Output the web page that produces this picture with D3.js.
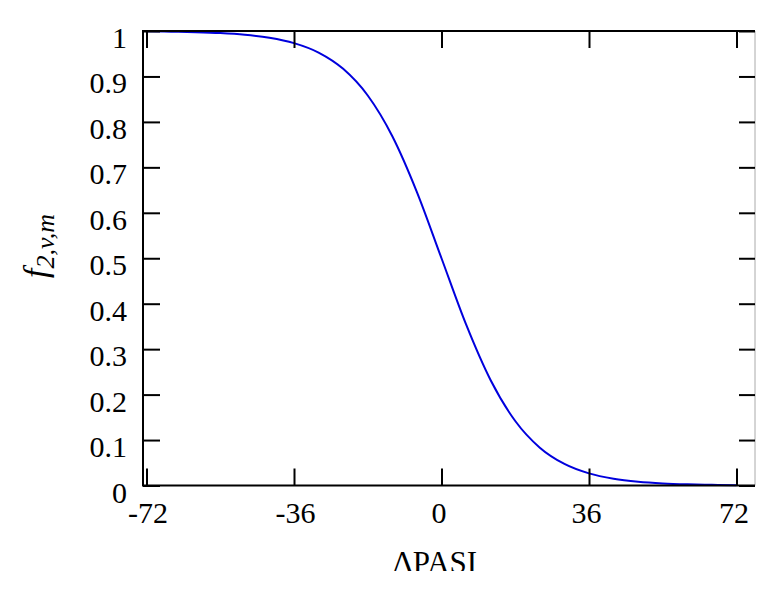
<!DOCTYPE html>
<html>
<head>
<meta charset="utf-8">
<script src="https://cdn.jsdelivr.net/npm/d3@7"></script>
<style>
  html, body { margin: 0; padding: 0; background: #fff; }
  svg { display: block; }
  text { font-family: "Liberation Serif", "DejaVu Serif", serif; fill: #000; }
</style>
</head>
<body>
<svg id="chart" width="777" height="592"></svg>
<script>
// Data
const deltaPASI = [-72, -66, -60, -54, -48, -42, -36, -30, -24, -18, -12, -6, 0, 6, 12, 18, 24, 30, 36, 42, 48, 54, 60, 66, 72];
const fValues   = [0.9993, 0.9986, 0.9975, 0.9955, 0.9918, 0.9852, 0.9734, 0.9526, 0.9168, 0.8581, 0.7685, 0.6457, 0.5,
                   0.3543, 0.2315, 0.1419, 0.0832, 0.0474, 0.0266, 0.0148, 0.0082, 0.0045, 0.0025, 0.0014, 0.0007];
const xTicks = [-72, -36, 0, 36, 72];
const yTicks = [0, 0.1, 0.2, 0.3, 0.4, 0.5, 0.6, 0.7, 0.8, 0.9, 1];
const xLabel = "ΔPASI";

(function () {
const svg = d3.select("#chart");
const x = d3.scaleLinear().domain([-72, 72]).range([146.5, 736.5]);
const y = d3.scaleLinear().domain([0, 1]).range([485.5, 31]);
const pLeft = 143, pRight = 755, pTop = y(1), pBottom = y(0);

// Curve
const line = d3.line().x((d, i) => x(deltaPASI[i])).y(d => y(d)).curve(d3.curveMonotoneX);
svg.append("path").datum(fValues)
  .attr("d", line).attr("fill", "none")
  .attr("stroke", "#0000dd").attr("stroke-width", 2);

// Right frame (thin grey)
svg.append("line").attr("x1", pRight).attr("x2", pRight).attr("y1", pTop).attr("y2", pBottom)
  .attr("stroke", "#aaa").attr("stroke-width", 1);

function styleAxis(g) {
  g.select(".domain").remove();
  g.selectAll(".tick line").attr("stroke", "#000").attr("stroke-width", 2);
  g.selectAll(".tick text").style("font-size", "30px").attr("fill", "#000");
}
const fmtY = d => String(+d.toFixed(1));

// Bottom axis (ticks upward)
svg.append("g").attr("transform", `translate(0,${pBottom})`)
  .call(d3.axisBottom(x).tickValues(xTicks).tickSize(-17).tickPadding(16).tickFormat(d => d < 0 ? "-" + Math.abs(d) : String(d)))
  .call(styleAxis)
  .call(g => g.selectAll(".tick text").attr("dx", d => d < 0 ? 1 : -3));
// Top axis (ticks downward, no labels)
svg.append("g").attr("transform", `translate(0,${pTop})`)
  .call(d3.axisTop(x).tickValues(xTicks).tickSize(-17).tickFormat(""))
  .call(styleAxis);
// Left axis
svg.append("g").attr("transform", `translate(${pLeft},0)`)
  .call(d3.axisLeft(y).tickValues(yTicks).tickSize(-17).tickPadding(16).tickFormat(fmtY))
  .call(styleAxis)
  .call(g => g.selectAll(".tick text").attr("dy", "0.55em"));
// Right axis (no labels)
svg.append("g").attr("transform", `translate(${pRight},0)`)
  .call(d3.axisRight(y).tickValues(yTicks).tickSize(-16).tickFormat(""))
  .call(styleAxis);

// Frame lines
svg.append("line").attr("x1", pLeft).attr("x2", pRight).attr("y1", pTop).attr("y2", pTop)
  .attr("stroke", "#000").attr("stroke-width", 2);
svg.append("line").attr("x1", pLeft).attr("x2", pRight).attr("y1", pBottom).attr("y2", pBottom)
  .attr("stroke", "#000").attr("stroke-width", 2);
svg.append("line").attr("x1", pLeft).attr("x2", pLeft).attr("y1", pTop - 1).attr("y2", pBottom + 1)
  .attr("stroke", "#000").attr("stroke-width", 2);

// X label (clipped at the bottom as in the reference)
svg.append("clipPath").attr("id", "xlabclip")
  .append("rect").attr("x", 0).attr("y", 540).attr("width", 777).attr("height", 31);
svg.append("text").attr("clip-path", "url(#xlabclip)")
  .attr("x", 435).attr("y", 573).attr("text-anchor", "middle")
  .style("font-size", "31px").text(xLabel);

// Y label
const yl = svg.append("text")
  .attr("transform", "translate(47,246) rotate(-90)")
  .attr("text-anchor", "middle")
  .style("font-size", "34px").style("font-style", "italic");
yl.append("tspan").text("f");
yl.append("tspan").attr("dy", 7).style("font-size", "26px").text("2,v,m");
})();
</script>
</body>
</html>
